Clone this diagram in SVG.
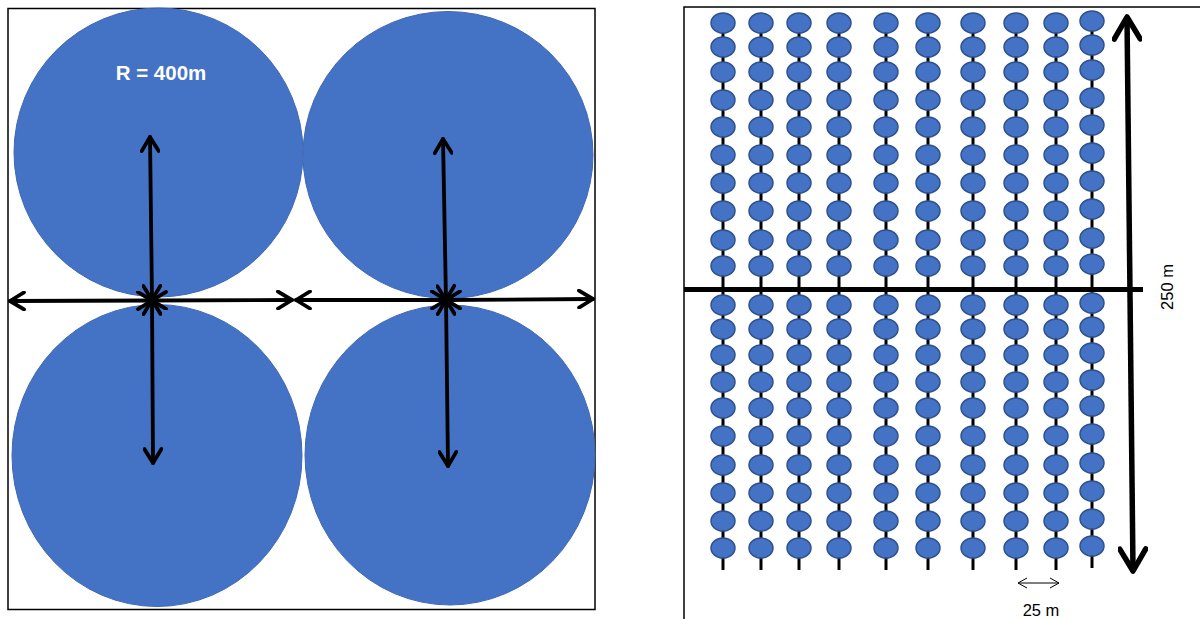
<svg xmlns="http://www.w3.org/2000/svg" xmlns:xlink="http://www.w3.org/1999/xlink" width="1200" height="619" viewBox="0 0 1200 619">
<style>
.frame{fill:none;stroke:#000;stroke-width:1.5}
.pivot{fill:#4472C4;stroke:#4068B5;stroke-width:1}
.arr{fill:none;stroke:#000;stroke-width:3.8;stroke-linecap:round;marker-start:url(#chev);marker-end:url(#chev)}
.stem{stroke:#000;stroke-width:3}
.tree{fill:#4472C4;stroke:#2F528F;stroke-width:1.5}
.lbl{font-family:"Liberation Sans",Arial,sans-serif;fill:#000}
</style>
<defs>
<marker id="chev" viewBox="0 0 20 20" markerUnits="userSpaceOnUse" markerWidth="20" markerHeight="20" refX="17" refY="10" orient="auto-start-reverse">
<path d="M3,1.5 L17,10 L3,18.5" fill="none" stroke="#000" stroke-width="3.8" stroke-linecap="round" stroke-linejoin="round"/>
</marker>
<marker id="big" viewBox="0 0 30 30" markerUnits="userSpaceOnUse" markerWidth="30" markerHeight="30" refX="25" refY="15" orient="auto-start-reverse">
<path d="M3,2 L25,15 L3,28" fill="none" stroke="#000" stroke-width="5.5" stroke-linecap="round" stroke-linejoin="round"/>
</marker>
<marker id="thin" viewBox="0 0 12 12" markerUnits="userSpaceOnUse" markerWidth="12" markerHeight="12" refX="10" refY="6" orient="auto-start-reverse">
<path d="M1,1 L10,6 L1,11" fill="none" stroke="#000" stroke-width="1"/>
</marker>
<ellipse id="t" cx="0" cy="0" rx="12" ry="10" class="tree"/>
<g id="col">
<line x1="0" y1="23" x2="0" y2="570" class="stem"/>
<use xlink:href="#t" y="23"/><use xlink:href="#t" y="47"/><use xlink:href="#t" y="72"/><use xlink:href="#t" y="100"/><use xlink:href="#t" y="127"/>
<use xlink:href="#t" y="155"/><use xlink:href="#t" y="183"/><use xlink:href="#t" y="211"/><use xlink:href="#t" y="240"/><use xlink:href="#t" y="266"/>
<use xlink:href="#t" y="305"/><use xlink:href="#t" y="329"/><use xlink:href="#t" y="355"/><use xlink:href="#t" y="382"/><use xlink:href="#t" y="408"/>
<use xlink:href="#t" y="436"/><use xlink:href="#t" y="465"/><use xlink:href="#t" y="493"/><use xlink:href="#t" y="521"/><use xlink:href="#t" y="548"/>
</g>
</defs>
<rect width="1200" height="619" fill="#fff"/>

<!-- Left panel -->
<rect id="left-frame" x="8" y="8.5" width="587" height="601" class="frame"/>
<g id="pivot-tl"><ellipse cx="158.5" cy="152.5" rx="144.5" ry="144.5" class="pivot"/></g>
<g id="pivot-tr"><ellipse cx="448" cy="155" rx="145" ry="143.5" class="pivot"/></g>
<g id="pivot-bl"><ellipse cx="157" cy="455.5" rx="145" ry="151" class="pivot"/></g>
<g id="pivot-br"><ellipse cx="450" cy="455" rx="145" ry="150" class="pivot"/></g>
<text x="161" y="80" text-anchor="middle" font-family="'Liberation Sans',Arial,sans-serif" font-weight="bold" font-size="20.5" fill="#fff">R = 400m</text>

<g id="connectors-left">
<line x1="10" y1="301" x2="152" y2="300.5" class="arr" stroke-width="3.2"/>
<line x1="152" y1="300.5" x2="292" y2="300" class="arr"/>
<line x1="296" y1="300" x2="446" y2="300" class="arr" stroke-width="3.2"/>
<line x1="446" y1="300" x2="593" y2="299" class="arr"/>
<line x1="152" y1="300" x2="150" y2="137" class="arr"/>
<line x1="152" y1="300" x2="153" y2="463" class="arr"/>
<line x1="446" y1="300" x2="443" y2="139" class="arr"/>
<line x1="446" y1="300" x2="448" y2="466" class="arr"/>
</g>

<!-- Right panel -->
<path id="right-frame" d="M684,619 L684,7 L1200,7" class="frame"/>
<g id="columns">
<g id="col1"><use xlink:href="#col" x="723"/></g>
<g id="col2"><use xlink:href="#col" x="761"/></g>
<g id="col3"><use xlink:href="#col" x="799"/></g>
<g id="col4"><use xlink:href="#col" x="839"/></g>
<g id="col5"><use xlink:href="#col" x="886"/></g>
<g id="col6"><use xlink:href="#col" x="928"/></g>
<g id="col7"><use xlink:href="#col" x="973"/></g>
<g id="col8"><use xlink:href="#col" x="1016"/></g>
<g id="col9"><use xlink:href="#col" x="1056"/></g>
<g id="col10"><use xlink:href="#col" x="1092" y="-2"/></g>
</g>
<g id="connectors-right">
<line x1="684" y1="289.5" x2="1143" y2="289.5" stroke="#000" stroke-width="5"/>
<line x1="1127" y1="17" x2="1133" y2="571" fill="none" stroke="#000" stroke-width="5.5" marker-start="url(#big)" marker-end="url(#big)"/>
<line x1="1018" y1="583" x2="1059" y2="583" stroke="#000" stroke-width="1" marker-start="url(#thin)" marker-end="url(#thin)"/>
</g>
<text class="lbl" font-size="16.5" text-anchor="middle" transform="translate(1173,287) rotate(-90)">250 m</text>
<text class="lbl" x="1041" y="616" font-size="16.5" text-anchor="middle">25 m</text>
</svg>
